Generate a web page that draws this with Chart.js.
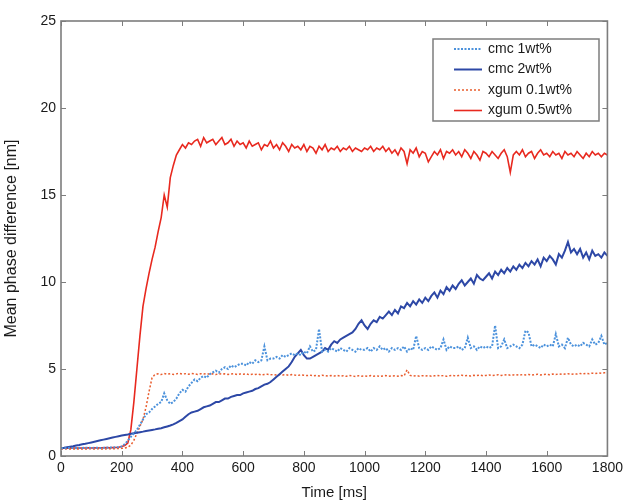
<!DOCTYPE html>
<html>
<head>
<meta charset="utf-8">
<script src="https://cdn.jsdelivr.net/npm/chart.js@4/dist/chart.umd.min.js"></script>
<style>
  html, body { margin: 0; padding: 0; background: #fff; }
  #wrap { width: 627px; height: 504px; position: relative; }
</style>
</head>
<body>
<div id="wrap"><canvas id="chart"></canvas></div>
<script>
/* Mean phase difference vs time, sampled every 10 ms from 0 to 1800 ms */
var STEP_MS = 10;
var X_TICKS = [0, 200, 400, 600, 800, 1000, 1200, 1400, 1600, 1800];
var Y_TICKS = [0, 5, 10, 15, 20, 25];
var SERIES_LABELS = ["cmc 1wt%", "cmc 2wt%", "xgum 0.1wt%", "xgum 0.5wt%"];

var cmc1 = [
  0.45, 0.46, 0.45, 0.47, 0.46, 0.45, 0.47, 0.46, 0.48, 0.47,
  0.46, 0.48, 0.47, 0.46, 0.48, 0.47, 0.49, 0.48, 0.50, 0.52,
  0.55, 0.68, 0.88, 1.10, 1.30, 1.50, 1.80, 2.10, 2.40, 2.50,
  2.70, 2.85, 3.00, 3.10, 3.60, 3.20, 3.00, 3.10, 3.30, 3.60,
  3.80, 3.70, 4.00, 4.20, 4.40, 4.30, 4.50, 4.60, 4.50, 4.70,
  4.80, 4.90, 4.80, 5.00, 5.10, 5.00, 5.20, 5.10, 5.20, 5.30,
  5.30, 5.20, 5.40, 5.30, 5.50, 5.40, 5.50, 6.30, 5.50, 5.60,
  5.60, 5.70, 5.60, 5.80, 5.70, 5.80, 5.90, 5.80, 5.90, 5.80,
  6.00, 5.90, 6.30, 6.00, 6.10, 7.30, 6.00, 6.10, 6.00, 6.20,
  6.10, 6.00, 6.20, 6.10, 6.00, 6.20, 6.10, 6.00, 6.20, 6.10,
  6.10, 6.20, 6.00, 6.20, 6.10, 6.30, 6.10, 6.20, 6.00, 6.20,
  6.10, 6.20, 6.10, 6.30, 6.00, 6.20, 6.10, 6.90, 6.20, 6.10,
  6.20, 6.10, 6.30, 6.20, 6.10, 6.20, 6.70, 6.10, 6.30, 6.20,
  6.20, 6.30, 6.10, 6.20, 6.80, 6.20, 6.30, 6.10, 6.30, 6.20,
  6.30, 6.20, 6.30, 7.50, 6.20, 6.30, 6.70, 6.20, 6.30, 6.40,
  6.30, 6.20, 6.40, 7.20, 7.10, 6.30, 6.40, 6.30, 6.20, 6.40,
  6.30, 6.40, 6.30, 7.00, 6.30, 6.40, 6.20, 6.80, 6.40, 6.30,
  6.40, 6.30, 6.50, 6.40, 6.30, 6.70, 6.40, 6.50, 6.90, 6.40,
  6.50
];

var cmc2 = [
  0.45, 0.47, 0.50, 0.53, 0.56, 0.60, 0.63, 0.67, 0.70, 0.74,
  0.78, 0.82, 0.86, 0.90, 0.94, 0.98, 1.02, 1.06, 1.10, 1.14,
  1.18, 1.21, 1.24, 1.28, 1.31, 1.34, 1.37, 1.40, 1.44, 1.47,
  1.50, 1.53, 1.57, 1.60, 1.65, 1.70, 1.75, 1.82, 1.90, 2.00,
  2.10, 2.25, 2.40, 2.50, 2.55, 2.60, 2.70, 2.80, 2.85, 2.90,
  3.00, 3.10, 3.10, 3.20, 3.30, 3.30, 3.40, 3.45, 3.50, 3.50,
  3.60, 3.65, 3.70, 3.75, 3.85, 3.90, 4.00, 4.10, 4.15, 4.25,
  4.40, 4.55, 4.70, 4.85, 5.00, 5.15, 5.40, 5.70, 5.90, 6.10,
  5.80, 5.60, 5.60, 5.70, 5.80, 5.90, 6.00, 6.20, 6.10, 6.40,
  6.60, 6.50, 6.70, 6.80, 6.90, 7.00, 7.10, 7.30, 7.60, 7.80,
  7.50, 7.30, 7.60, 7.80, 7.70, 8.00, 7.90, 8.10, 8.30, 8.10,
  8.40, 8.20, 8.60, 8.50, 8.80, 8.60, 8.90, 8.70, 9.00, 8.80,
  9.10, 8.90, 9.20, 9.40, 9.10, 9.50, 9.30, 9.70, 9.50, 9.80,
  9.60, 9.90, 10.10, 9.80, 10.00, 10.20, 9.90, 10.40, 10.20, 10.10,
  10.30, 10.50, 10.20, 10.60, 10.40, 10.70, 10.50, 10.80, 10.60, 10.90,
  10.70, 11.00, 10.80, 11.10, 10.90, 11.20, 11.00, 11.30, 10.90, 11.40,
  11.20, 11.50, 11.30, 11.00, 11.60, 11.40, 11.80, 12.30, 11.70, 11.90,
  11.60, 11.90, 11.40, 11.70, 11.30, 11.80, 11.50, 11.60, 11.40, 11.70,
  11.50
];

var xgum01 = [
  0.40, 0.40, 0.41, 0.40, 0.40, 0.41, 0.40, 0.41, 0.40, 0.41,
  0.41, 0.40, 0.41, 0.41, 0.40, 0.41, 0.42, 0.41, 0.42, 0.43,
  0.44, 0.46, 0.50, 0.62, 0.90, 1.30, 1.70, 2.10, 2.80, 3.70,
  4.50, 4.70, 4.72, 4.68, 4.74, 4.70, 4.73, 4.69, 4.72, 4.75,
  4.71, 4.73, 4.70, 4.74, 4.72, 4.69, 4.73, 4.71, 4.74, 4.70,
  4.72, 4.68, 4.73, 4.70, 4.72, 4.69, 4.71, 4.73, 4.68, 4.71,
  4.70, 4.72, 4.67, 4.70, 4.69, 4.71, 4.66, 4.69, 4.70, 4.67,
  4.68, 4.65, 4.69, 4.66, 4.67, 4.64, 4.68, 4.65, 4.63, 4.66,
  4.64, 4.62, 4.65, 4.61, 4.63, 4.60, 4.64, 4.62, 4.59, 4.62,
  4.60, 4.63, 4.59, 4.61, 4.58, 4.62, 4.60, 4.57, 4.61, 4.59,
  4.60, 4.58, 4.62, 4.59, 4.61, 4.57, 4.60, 4.62, 4.58, 4.60,
  4.61, 4.59, 4.62, 4.60, 4.95, 4.63, 4.60, 4.62, 4.59, 4.61,
  4.60, 4.62, 4.59, 4.61, 4.63, 4.60, 4.62, 4.58, 4.61, 4.63,
  4.60, 4.62, 4.64, 4.61, 4.63, 4.60, 4.64, 4.62, 4.65, 4.61,
  4.63, 4.66, 4.62, 4.64, 4.67, 4.63, 4.65, 4.68, 4.64, 4.66,
  4.67, 4.64, 4.68, 4.66, 4.69, 4.65, 4.68, 4.70, 4.66, 4.69,
  4.70, 4.67, 4.71, 4.68, 4.72, 4.69, 4.71, 4.73, 4.70, 4.72,
  4.71, 4.74, 4.72, 4.75, 4.73, 4.76, 4.74, 4.77, 4.75, 4.78,
  4.78
];

var xgum05 = [
  0.45, 0.45, 0.46, 0.45, 0.46, 0.46, 0.45, 0.46, 0.46, 0.47,
  0.46, 0.47, 0.46, 0.47, 0.47, 0.48, 0.47, 0.48, 0.49, 0.50,
  0.55, 0.60, 0.75, 1.50, 3.10, 5.00, 6.90, 8.60, 9.60, 10.50,
  11.30, 12.00, 12.90, 13.70, 15.00, 14.30, 16.00, 16.70, 17.30, 17.60,
  17.90, 17.70, 18.00, 17.90, 18.10, 18.20, 17.80, 18.30, 18.00, 18.10,
  18.20, 17.90, 18.10, 18.30, 17.90, 18.00, 18.20, 17.80, 18.10, 17.90,
  18.00, 17.70, 18.10, 17.80, 17.90, 18.00, 17.60, 17.90, 17.80, 18.10,
  17.70, 17.90, 17.60, 18.00, 17.80, 17.50, 17.90, 17.70, 17.80, 17.60,
  17.90, 17.50, 17.80, 17.70, 17.40, 17.80, 17.60, 17.90, 17.50, 17.70,
  17.60, 17.80, 17.50, 17.70, 17.60, 17.80, 17.50, 17.70, 17.60, 17.50,
  17.70, 17.60, 17.80, 17.50, 17.70, 17.60, 17.80, 17.50, 17.70, 17.40,
  17.60, 17.30, 17.70, 17.50, 16.80, 17.60, 17.40, 17.70, 17.20, 17.50,
  17.40, 16.90, 17.20, 17.50, 17.30, 17.60, 17.10, 17.50, 17.40, 17.60,
  17.30, 17.50, 17.20, 17.60, 17.40, 17.10, 17.50, 17.30, 17.00, 17.50,
  17.40, 17.20, 17.50, 17.30, 17.10, 17.40, 17.60, 17.20, 16.30, 17.30,
  17.50, 17.30, 17.60, 17.20, 17.40, 17.50, 17.10, 17.40, 17.60, 17.30,
  17.40, 17.20, 17.50, 17.30, 17.40, 17.10, 17.50, 17.30, 17.40, 17.20,
  17.50, 17.30, 17.10, 17.40, 17.20, 17.50, 17.30, 17.40, 17.20, 17.40,
  17.30
];

var FONT = "'Liberation Sans', Arial, Helvetica, sans-serif";
var TEXT = "#1a1a1a";
var FRAME = "#7d7d7d";

function toPoints(values) {
  return values.map(function (v, i) { return { x: i * STEP_MS, y: v }; });
}

/* frame + inward tick marks on all four sides (MATLAB style) */
var framePlugin = {
  id: "frame",
  afterDatasetsDraw: function (chart) {
    var ctx = chart.ctx, a = chart.chartArea;
    var xs = chart.scales.x, ys = chart.scales.y;
    var len = 5;
    ctx.save();
    ctx.strokeStyle = FRAME;
    ctx.lineWidth = 1;
    ctx.beginPath();
    X_TICKS.forEach(function (t) {
      var px = Math.round(xs.getPixelForValue(t)) + 0.5;
      ctx.moveTo(px, a.bottom); ctx.lineTo(px, a.bottom - len);
      ctx.moveTo(px, a.top); ctx.lineTo(px, a.top + len);
    });
    Y_TICKS.forEach(function (t) {
      var py = Math.round(ys.getPixelForValue(t)) + 0.5;
      ctx.moveTo(a.left, py); ctx.lineTo(a.left + len, py);
      ctx.moveTo(a.right, py); ctx.lineTo(a.right - len, py);
    });
    ctx.stroke();
    ctx.lineWidth = 1.6;
    ctx.strokeRect(a.left, a.top, a.right - a.left, a.bottom - a.top);
    ctx.restore();
  }
};

/* boxed legend in the upper right of the plot */
var boxLegendPlugin = {
  id: "boxLegend",
  afterDraw: function (chart, args, opts) {
    var ctx = chart.ctx;
    var b = opts.box;
    ctx.save();
    ctx.fillStyle = "#fff";
    ctx.fillRect(b.x, b.y, b.w, b.h);
    ctx.strokeStyle = FRAME;
    ctx.lineWidth = 1.5;
    ctx.strokeRect(b.x, b.y, b.w, b.h);
    ctx.font = "14px " + FONT;
    ctx.textBaseline = "middle";
    chart.data.datasets.forEach(function (ds, i) {
      var y = b.y + opts.firstRow + i * opts.rowGap;
      ctx.strokeStyle = ds.borderColor;
      ctx.lineWidth = ds.borderWidth;
      ctx.setLineDash(ds.borderDash || []);
      ctx.beginPath();
      ctx.moveTo(b.x + opts.lineFrom, y);
      ctx.lineTo(b.x + opts.lineTo, y);
      ctx.stroke();
      ctx.setLineDash([]);
      ctx.fillStyle = TEXT;
      ctx.fillText(ds.label, b.x + opts.textAt, y);
    });
    ctx.restore();
  }
};

var ctx = document.getElementById("chart").getContext("2d");
new Chart(ctx, {
  type: "line",
  data: {
    datasets: [
      { label: SERIES_LABELS[0], data: toPoints(cmc1), borderColor: "#4c92dc", borderWidth: 2, borderDash: [2, 1.5] },
      { label: SERIES_LABELS[1], data: toPoints(cmc2), borderColor: "#2d48a6", borderWidth: 2 },
      { label: SERIES_LABELS[2], data: toPoints(xgum01), borderColor: "#e95d2e", borderWidth: 1.5, borderDash: [2, 2] },
      { label: SERIES_LABELS[3], data: toPoints(xgum05), borderColor: "#e8291f", borderWidth: 1.6 }
    ]
  },
  options: {
    responsive: true,
    maintainAspectRatio: false,
    animation: false,
    devicePixelRatio: 1,
    elements: { point: { radius: 0 }, line: { tension: 0 } },
    layout: { padding: { top: 21, right: 19, left: 0, bottom: 0 } },
    plugins: {
      legend: { display: false },
      tooltip: { enabled: false },
      boxLegend: {
        box: { x: 433, y: 39, w: 166, h: 82 },
        firstRow: 10, rowGap: 20.5,
        lineFrom: 21, lineTo: 49, textAt: 55
      }
    },
    scales: {
      x: {
        type: "linear",
        min: 0, max: 1800,
        afterFit: function (s) { s.height = 48; },
        afterBuildTicks: function (s) { s.ticks = X_TICKS.map(function (v) { return { value: v }; }); },
        grid: { display: false, drawTicks: false },
        border: { display: false },
        ticks: {
          color: TEXT, font: { family: FONT, size: 14 }, padding: 4, maxRotation: 0,
          callback: function (v) { return String(v); }
        },
        title: { display: true, text: "Time [ms]", color: TEXT, font: { family: FONT, size: 15 }, padding: { top: 0, bottom: 2 } }
      },
      y: {
        type: "linear",
        min: 0, max: 25,
        afterFit: function (s) { s.width = 61; },
        afterBuildTicks: function (s) { s.ticks = Y_TICKS.map(function (v) { return { value: v }; }); },
        grid: { display: false, drawTicks: false },
        border: { display: false },
        ticks: {
          color: TEXT, font: { family: FONT, size: 14 }, padding: 5,
          callback: function (v) { return String(v); }
        },
        title: { display: true, text: "Mean phase difference [nm]", color: TEXT, font: { family: FONT, size: 16 }, padding: { top: 2, bottom: 0 } }
      }
    }
  },
  plugins: [framePlugin, boxLegendPlugin]
});
</script>
</body>
</html>
